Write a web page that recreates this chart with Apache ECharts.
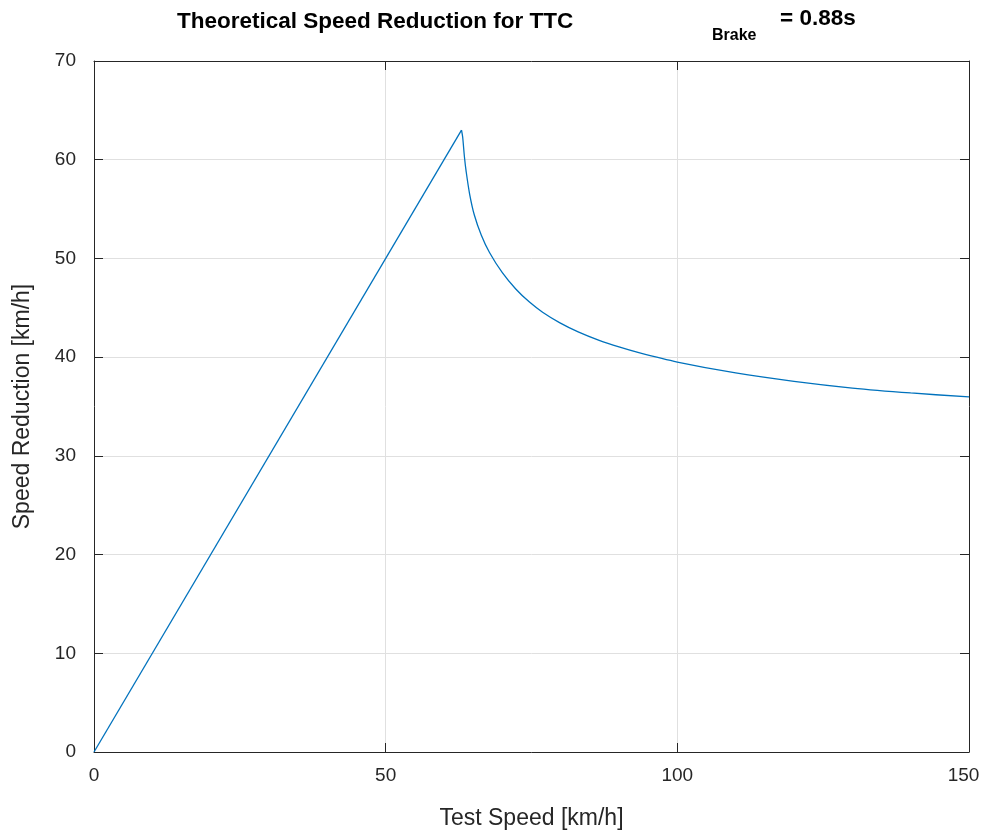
<!DOCTYPE html>
<html>
<head>
<meta charset="utf-8">
<script src="https://cdn.jsdelivr.net/npm/echarts@6/dist/echarts.min.js"></script>
<style>
  html, body { margin: 0; padding: 0; background: #ffffff; }
  #chart { width: 983px; height: 831px; }
</style>
</head>
<body>
<div id="chart"></div>
<script>
// rising part: test speed / speed reduction [km/h]
const riseSpeed = [0, 63.0];
const riseReduction = [0, 63.0];
// falling part after the peak
const fallSpeed = [63.0, 63.2, 63.5, 63.8, 64.4, 65.2, 66.4, 67.8, 70.0, 72.3, 74.6, 76.9,
  79.8, 83.0, 86.6, 90.0, 93.4, 100, 110, 120, 130, 140, 150];
const fallReduction = [63.0, 62.3, 60.3, 58.8, 56.5, 54.4, 52.35, 50.6, 48.55, 46.9, 45.6, 44.55,
  43.5, 42.56, 41.7, 41.03, 40.45, 39.5, 38.4, 37.55, 36.87, 36.37, 35.97];
const xTicks = [0, 50, 100, 150];
const yTicks = [0, 10, 20, 30, 40, 50, 60, 70];

const font = "'Liberation Sans', Arial, Helvetica, sans-serif";
const axisColor = "#262626";
const lineColor = "#0072BD";

function makeXAxis(pos, showLabel) {
  return {
    type: "value",
    position: pos,
    min: xTicks[0],
    max: xTicks[xTicks.length - 1],
    interval: xTicks[1] - xTicks[0],
    axisLine: { show: true, onZero: false, lineStyle: { color: axisColor, width: 1 } },
    axisTick: { show: true, inside: true, length: 9, lineStyle: { color: axisColor } },
    axisLabel: {
      show: showLabel, color: axisColor, fontSize: 19, fontFamily: font, margin: 14,
      // last label sits a bit left of its tick, like the original
      formatter: (v) => (v === xTicks[xTicks.length - 1] ? "{last|" + v + "}" : String(v)),
      rich: { last: { color: axisColor, fontSize: 19, fontFamily: font, padding: [0, 11, 0, 0] } },
    },
    splitLine: { show: showLabel, lineStyle: { color: "#e0e0e0", width: 1 } },
  };
}

function makeYAxis(pos, showLabel) {
  return {
    type: "value",
    position: pos,
    min: yTicks[0],
    max: yTicks[yTicks.length - 1],
    interval: yTicks[1] - yTicks[0],
    axisLine: { show: true, onZero: false, lineStyle: { color: axisColor, width: 1 } },
    axisTick: { show: true, inside: true, length: 9, lineStyle: { color: axisColor } },
    axisLabel: { show: showLabel, color: axisColor, fontSize: 19, fontFamily: font, margin: 18 },
    splitLine: { show: showLabel, lineStyle: { color: "#e0e0e0", width: 1 } },
  };
}

const xBottom = makeXAxis("bottom", true);
xBottom.name = "Test Speed [km/h]";
xBottom.nameLocation = "middle";
xBottom.nameGap = 55;
xBottom.nameTextStyle = { color: axisColor, fontSize: 23, fontFamily: font };

const yLeft = makeYAxis("left", true);
yLeft.name = "Speed Reduction [km/h]";
yLeft.nameLocation = "middle";
yLeft.nameGap = 60;
yLeft.nameTextStyle = { color: axisColor, fontSize: 23, fontFamily: font };

const option = {
  animation: false,
  backgroundColor: "#ffffff",
  title: [
    {
      text: "Theoretical Speed Reduction for TTC",
      left: 177, top: 10, padding: 0,
      textStyle: { fontSize: 22.5, fontWeight: "bold", color: "#000000", fontFamily: font },
    },
    {
      text: "Brake",
      left: 712, top: 28, padding: 0,
      textStyle: { fontSize: 16, fontWeight: "bold", color: "#000000", fontFamily: font },
    },
    {
      text: "= 0.88s",
      left: 780, top: 7, padding: 0,
      textStyle: { fontSize: 22.5, fontWeight: "bold", color: "#000000", fontFamily: font },
    },
  ],
  grid: { left: 94, right: 14, top: 61, bottom: 79, containLabel: false, outerBoundsMode: "none" },
  xAxis: [xBottom, makeXAxis("top", false)],
  yAxis: [yLeft, makeYAxis("right", false)],
  series: [
    {
      type: "line",
      data: riseSpeed.map((v, i) => [v, riseReduction[i]]),
      showSymbol: false,
      lineStyle: { color: lineColor, width: 1.3 },
      itemStyle: { color: lineColor },
    },
    {
      type: "line",
      data: fallSpeed.map((v, i) => [v, fallReduction[i]]),
      showSymbol: false,
      smooth: 0.3,
      lineStyle: { color: lineColor, width: 1.3 },
      itemStyle: { color: lineColor },
    },
  ],
};

var myChart = echarts.init(document.getElementById("chart"));
myChart.setOption(option);
</script>
</body>
</html>
